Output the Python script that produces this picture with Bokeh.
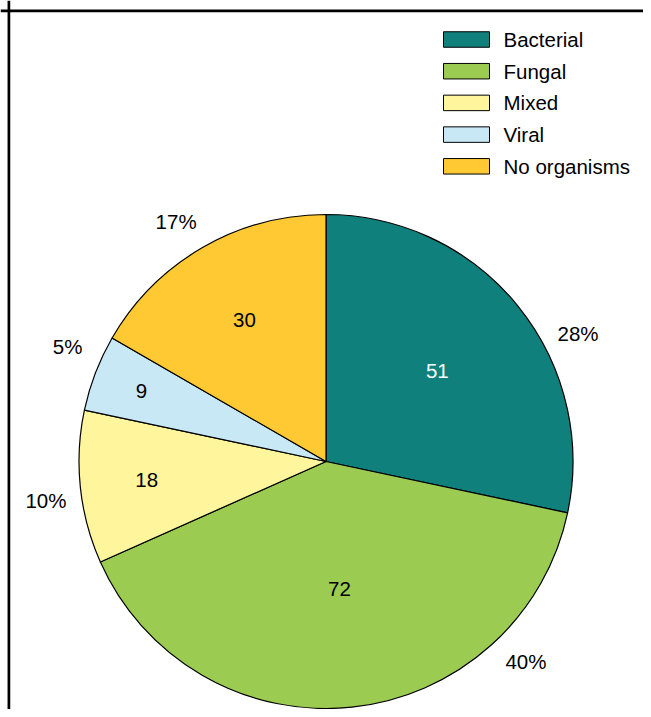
import math
from bokeh.plotting import figure
from bokeh.models import Range1d, Span, ColumnDataSource
from bokeh.core.properties import value
from bokeh.embed import file_html
from bokeh.resources import INLINE

# ---- data ----
categories = ["Bacterial", "Fungal", "Mixed", "Viral", "No organisms"]
counts = [51, 72, 18, 9, 30]
pct_labels = ["28%", "40%", "10%", "5%", "17%"]
colors = ["#0F807C", "#9BCB51", "#FFF59D", "#C9E8F6", "#FFC933"]
count_text_colors = ["white", "black", "black", "black", "black"]

# ---- style / layout ----
W, H = 643, 709
cx, cy, R = 325.5, 248.0, 247.0
inner_frac = [0.58, 0.52, 0.73, 0.80, 0.66]       # radial position of count labels
outer_deg = [27.0, -45.0, 188.0, 156.0, 122.0]    # angle of percentage labels
outer_frac = 1.145
FONT = value("Liberation Sans")
FS = "20.5px"

p = figure(width=W, height=H, output_backend="svg", toolbar_location=None,
           x_range=Range1d(0, W), y_range=Range1d(0, H), min_border=0,
           outline_line_color=None)
p.axis.visible = False
p.grid.visible = False
p.background_fill_color = "white"
p.border_fill_color = "white"

total = sum(counts)
starts, ends, mids = [], [], []
acc = 0
for c in counts:
    s = math.pi / 2 - 2 * math.pi * acc / total
    acc += c
    e = math.pi / 2 - 2 * math.pi * acc / total
    starts.append(s)
    ends.append(e)
    mids.append((s + e) / 2)

src = ColumnDataSource(dict(start=starts, end=ends, color=colors,
                            x=[cx] * len(counts), y=[cy] * len(counts)))
p.wedge(x="x", y="y", radius=R, start_angle="start", end_angle="end",
        direction="clock", fill_color="color", line_color="black",
        line_width=1.2, source=src)

# count labels
ix = [cx + f * R * math.cos(m) for f, m in zip(inner_frac, mids)]
iy = [cy + f * R * math.sin(m) for f, m in zip(inner_frac, mids)]
p.text(x=ix, y=iy, text=[str(c) for c in counts], text_color=count_text_colors,
       text_font=FONT, text_font_size=FS, text_align="center",
       text_baseline="middle")

# percentage labels
ox = [cx + outer_frac * R * math.cos(math.radians(a)) for a in outer_deg]
oy = [cy + outer_frac * R * math.sin(math.radians(a)) for a in outer_deg]
p.text(x=ox, y=oy, text=pct_labels, text_color="black", text_font=FONT,
       text_font_size=FS, text_align="center", text_baseline="middle")

# legend
leg_y0, leg_dy = 670.0, 31.7
ly = [leg_y0 - i * leg_dy for i in range(len(categories))]
p.rect(x=[466.0] * len(categories), y=ly, width=46, height=15.5,
       fill_color=colors, line_color="black", line_width=1)
p.text(x=[503.0] * len(categories), y=ly, text=categories, text_color="black",
       text_font=FONT, text_font_size=FS, text_align="left",
       text_baseline="middle")

# frame lines (top and left)
p.add_layout(Span(location=8.4, dimension="height", line_color="black", line_width=2.7))
p.add_layout(Span(location=698.6, dimension="width", line_color="black", line_width=2.7))

open("out.html", "w").write(file_html(p, INLINE))
